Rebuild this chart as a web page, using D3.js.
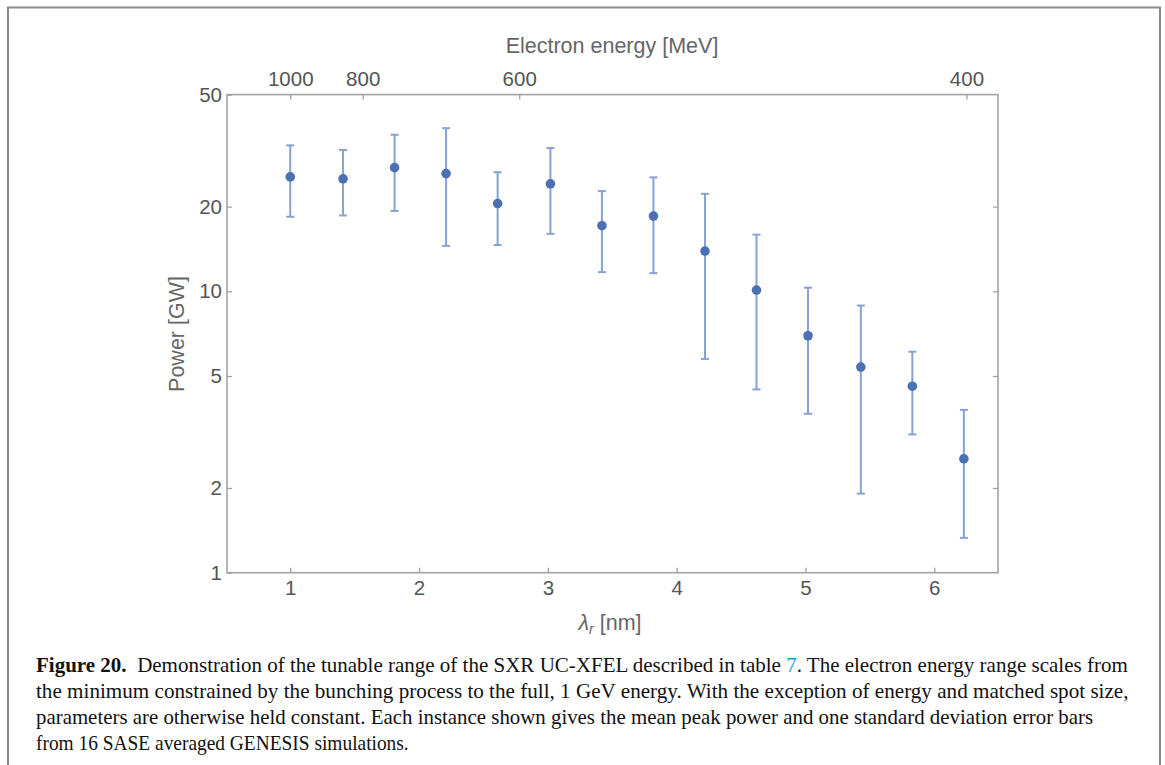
<!DOCTYPE html>
<html><head><meta charset="utf-8">
<script src="https://cdn.jsdelivr.net/npm/d3@7"></script>
<style>body{margin:0;background:#fff;} svg{display:block;}</style>
</head><body>
<svg id="chart" width="1165" height="765"></svg>
<script>
// ---- data ----
const wavelengths = [1.00, 1.41, 1.81, 2.21, 2.61, 3.02, 3.42, 3.82, 4.22, 4.62, 5.02, 5.43, 5.83, 6.23];
const meanPower   = [25.5, 25.1, 27.5, 26.2, 20.5, 24.1, 17.1, 18.5, 13.9, 10.1, 6.95, 5.38, 4.60, 2.54];
const powerHigh   = [33.0, 31.8, 36.0, 38.0, 26.5, 32.3, 22.7, 25.4, 22.2, 15.9, 10.3, 8.9, 6.1, 3.79];
const powerLow    = [18.4, 18.6, 19.3, 14.5, 14.6, 16.0, 11.7, 11.6, 5.75, 4.48, 3.67, 1.91, 3.10, 1.33];
const xTicks = [1, 2, 3, 4, 5, 6];
const yTicks = [1, 2, 5, 10, 20, 50];
const energyTicks = [1000, 800, 600, 400];
const captionLines = [
  "the minimum constrained by the bunching process to the full, 1 GeV energy. With the exception of energy and matched spot size,",
  "parameters are otherwise held constant. Each instance shown gives the mean peak power and one standard deviation error bars",
  "from 16 SASE averaged GENESIS simulations."
];

const svg = d3.select("#chart");
const L = 227, R = 998, T = 94.6, B = 572.7;
const x = d3.scaleLinear().domain([0.509, 6.495]).range([L, R]);
const y = d3.scaleLog().domain([1, 50]).range([B, T]);
// resonant wavelength scales as 1/E^2, 1 nm at 1000 MeV
const eToLambda = e => Math.pow(1000 / e, 2);

const axisColor = "#a3a3a3", labelColor = "#555", titleColor = "#666";
const sans = "'Liberation Sans', Arial, sans-serif";

// page border
svg.append("path").attr("d", "M8,765 V7.5 H1160 V765")
  .attr("fill", "none").attr("stroke", "#8a8a8a").attr("stroke-width", 2);

function styleAxis(g) {
  g.select(".domain").remove();
  g.selectAll(".tick line").attr("stroke", axisColor).attr("stroke-width", 1.3);
  g.selectAll(".tick text").attr("fill", labelColor).style("font-family", sans).style("font-size", "20.5px");
}

svg.append("g").attr("transform", `translate(0,${B})`)
  .call(d3.axisBottom(x).tickValues(xTicks).tickSizeInner(-5).tickSizeOuter(0).tickPadding(8).tickFormat(d3.format("d")))
  .call(styleAxis);
svg.append("g").attr("transform", `translate(${L},0)`)
  .call(d3.axisLeft(y).tickValues(yTicks).tickSizeInner(-5).tickSizeOuter(0).tickPadding(5).tickFormat(d3.format("d")))
  .call(styleAxis);
svg.append("g").attr("transform", `translate(${R},0)`)
  .call(d3.axisRight(y).tickValues(yTicks.slice(1, -1)).tickSizeInner(-5).tickSizeOuter(0).tickFormat(""))
  .call(styleAxis);
const xTop = d3.scaleLinear().domain(x.domain()).range(x.range());
svg.append("g").attr("transform", `translate(0,${T})`)
  .call(d3.axisTop(xTop).tickValues(energyTicks.map(eToLambda)).tickSizeInner(-5).tickSizeOuter(0).tickPadding(9)
        .tickFormat((d, i) => energyTicks[i]))
  .call(styleAxis);

// frame
svg.append("rect").attr("x", L).attr("y", T).attr("width", R - L).attr("height", B - T)
  .attr("fill", "none").attr("stroke", axisColor).attr("stroke-width", 1.6);

// axis titles
svg.append("text").attr("x", 612).attr("y", 53).attr("text-anchor", "middle")
  .attr("fill", titleColor).style("font-family", sans).style("font-size", "21.5px").text("Electron energy [MeV]");
svg.append("text").attr("transform", "translate(184,334) rotate(-90)").attr("text-anchor", "middle")
  .attr("fill", titleColor).style("font-family", sans).style("font-size", "21.5px").text("Power [GW]");
const xt = svg.append("text").attr("x", 610).attr("y", 630).attr("text-anchor", "middle")
  .attr("fill", titleColor).style("font-family", sans).style("font-size", "21.5px");
xt.append("tspan").style("font-style", "italic").text("λ");
xt.append("tspan").style("font-style", "italic").style("font-size", "14px").attr("dy", 4).text("r");
xt.append("tspan").attr("dy", -4).text(" [nm]");

// data
const data = wavelengths.map((w, i) => ({w, m: meanPower[i], hi: powerHigh[i], lo: powerLow[i]}));
const barColor = "#86a2d3", ptColor = "#4b70b3";
const eb = svg.append("g").attr("stroke", barColor).attr("stroke-width", 2).attr("fill", "none");
eb.selectAll("line.v").data(data).join("line").attr("class", "v")
  .attr("x1", d => x(d.w)).attr("x2", d => x(d.w)).attr("y1", d => y(d.lo)).attr("y2", d => y(d.hi));
eb.selectAll("line.ct").data(data).join("line").attr("class", "ct")
  .attr("x1", d => x(d.w) - 4).attr("x2", d => x(d.w) + 4).attr("y1", d => y(d.hi)).attr("y2", d => y(d.hi));
eb.selectAll("line.cb").data(data).join("line").attr("class", "cb")
  .attr("x1", d => x(d.w) - 4).attr("x2", d => x(d.w) + 4).attr("y1", d => y(d.lo)).attr("y2", d => y(d.lo));
svg.append("g").selectAll("circle").data(data).join("circle")
  .attr("cx", d => x(d.w)).attr("cy", d => y(d.m)).attr("r", 4.8).attr("fill", ptColor);

// caption
const serif = "'Liberation Serif', 'Times New Roman', serif";
const capTargets = [[36, 1128], [36, 1129], [36, 1094], [36, 409]];
const capY = [672, 698, 724, 750];
function fit(t, i) {
  const w = t.node().getComputedTextLength();
  const [a, b] = capTargets[i];
  const s = (b - a) / w;
  t.attr("x", 0).attr("transform", `translate(${a},${capY[i]}) scale(${s},1)`);
}
const c1 = svg.append("text").attr("fill", "#111").style("font-family", serif).style("font-size", "21px");
c1.append("tspan").style("font-weight", "bold").text("Figure 20.");
c1.append("tspan").text("\u00a0\u00a0Demonstration of the tunable range of the SXR UC-XFEL described in table ");
c1.append("tspan").attr("fill", "#1b9ad6").text("7");
c1.append("tspan").text(". The electron energy range scales from");
fit(c1, 0);
captionLines.forEach((s, k) => {
  const t = svg.append("text").attr("fill", "#111").style("font-family", serif).style("font-size", "21px").text(s);
  fit(t, k + 1);
});
</script>
</body></html>
